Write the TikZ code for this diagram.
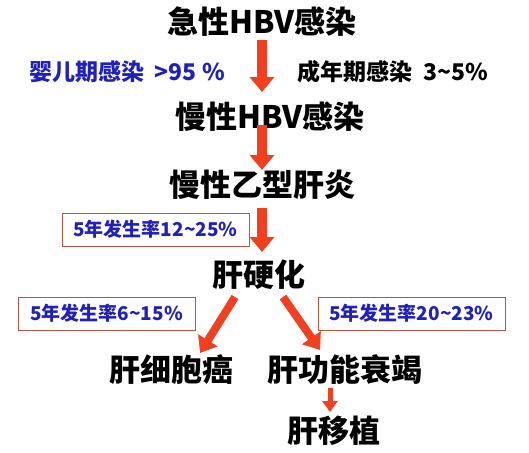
\documentclass[tikz,border=0pt]{standalone}
\usepackage{fontspec}
\setmainfont{Noto Sans CJK SC}
\usetikzlibrary{arrows.meta,calc}
\definecolor{arrowred}{RGB}{240,64,32}
\definecolor{labelblue}{RGB}{32,32,192}
\definecolor{boxbrown}{RGB}{192,80,64}
\begin{document}
\begin{tikzpicture}[x=1pt,y=-1pt,
  main/.style={font=\fontsize{31}{33}\selectfont\bfseries, inner sep=0pt, anchor=center},
  lbl/.style={font=\fontsize{23}{25}\selectfont\bfseries, inner sep=0pt},
  boxlbl/.style={draw=boxbrown, line width=0.8pt, font=\fontsize{19}{20}\selectfont\bfseries, text=labelblue, minimum height=33pt, inner sep=0pt},
  bigarrow/.style={draw=arrowred, line width=10pt, -{Triangle[width=24pt,length=15pt,fill=arrowred]}},
  diagarrow/.style={draw=arrowred, line width=8pt, -{Triangle[width=22pt,length=15pt,fill=arrowred]}},
  smallarrow/.style={draw=arrowred, line width=5pt, -{Triangle[width=15pt,length=11pt,fill=arrowred]}}]
\useasboundingbox[fill=white] (0,0) rectangle (529,452);
\node[main] (acute) at (262,22) {急性HBV感染};
\node[lbl, text=labelblue] (infant) at (127,72) {婴儿期感染\ \ >95 \%};
\node[lbl] (adult) at (393,72) {成年期感染\ \ 3\textasciitilde 5\%};
\node[main] (chronicinf) at (270,117) {慢性HBV感染};
\node[main] (hep) at (262,185) {慢性乙型肝炎};
\node[main] (cirr) at (259,275) {肝硬化};
\node[main] (hcc) at (171,370) {肝细胞癌};
\node[main] (fail) at (345,370) {肝功能衰竭};
\node[main] (trans) at (334,431) {肝移植};
\node[boxlbl, minimum width=187pt] (b1) at (155.5,229.5) {5年发生率12\textasciitilde 25\%};
\node[boxlbl, minimum width=177pt] (b2) at (106.5,313.5) {5年发生率6\textasciitilde 15\%};
\node[boxlbl, minimum width=187pt] (b3) at (411.5,313.5) {5年发生率20\textasciitilde 23\%};
\draw[bigarrow] ($(acute.center)+(0,18)$) -- ($(chronicinf.center)+(-8,-25)$);
\draw[bigarrow] ($(chronicinf.center)+(-8,8)$) -- ($(hep.center)+(0,-15)$);
\draw[bigarrow] ($(hep.center)+(0,23)$) -- ($(cirr.center)+(3,-23)$);
\draw[diagarrow] ($(cirr.center)+(-24,22)$) -- ($(hcc.center)+(29,-17)$);
\draw[diagarrow] ($(cirr.center)+(24,22)$) -- ($(fail.center)+(-25,-20)$);
\draw[smallarrow] ($(fail.center)+(-15,18)$) -- ($(trans.center)+(-4,-19)$);
\end{tikzpicture}
\end{document}
